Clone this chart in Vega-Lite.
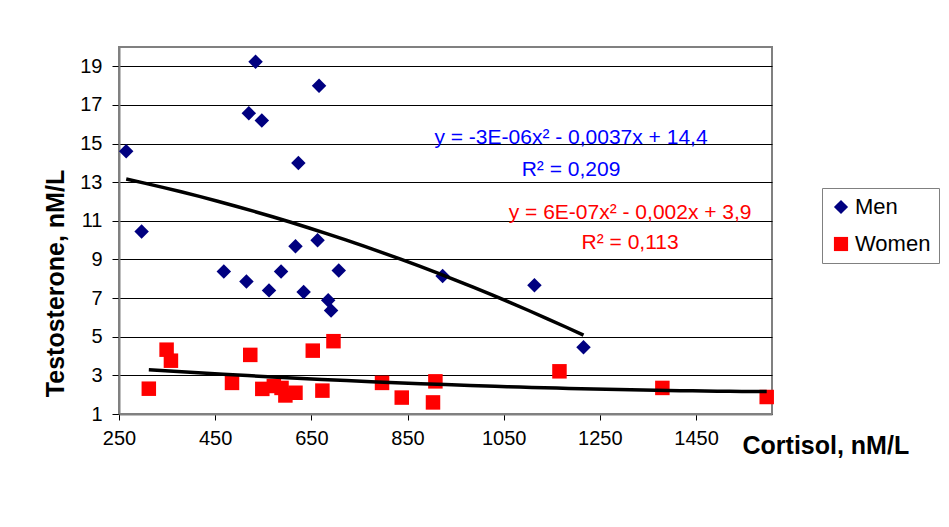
{
  "$schema": "https://vega.github.io/schema/vega-lite/v6.json",
  "autosize": {"type": "none"},
  "padding": {"left": 119, "top": 47, "right": 177, "bottom": 113},
  "width": 653,
  "height": 367,
  "background": "white",
  "config": {
    "font": "Liberation Sans",
    "view": {"stroke": "#808080", "strokeWidth": 2},
    "axis": {"labelFont": "Liberation Sans", "titleFont": "Liberation Sans"}
  },
  "data": {
    "values": [
      {"sex": "Men", "cortisol": 265, "testosterone": 14.6},
      {"sex": "Men", "cortisol": 297, "testosterone": 10.45},
      {"sex": "Men", "cortisol": 534, "testosterone": 19.24},
      {"sex": "Men", "cortisol": 520, "testosterone": 16.57},
      {"sex": "Men", "cortisol": 547, "testosterone": 16.2},
      {"sex": "Men", "cortisol": 666, "testosterone": 18.0},
      {"sex": "Men", "cortisol": 623, "testosterone": 14.0},
      {"sex": "Men", "cortisol": 468, "testosterone": 8.38},
      {"sex": "Men", "cortisol": 515, "testosterone": 7.86},
      {"sex": "Men", "cortisol": 562, "testosterone": 7.4},
      {"sex": "Men", "cortisol": 587, "testosterone": 8.38},
      {"sex": "Men", "cortisol": 617, "testosterone": 9.68},
      {"sex": "Men", "cortisol": 634, "testosterone": 7.31},
      {"sex": "Men", "cortisol": 663, "testosterone": 10.0},
      {"sex": "Men", "cortisol": 685, "testosterone": 6.89},
      {"sex": "Men", "cortisol": 691, "testosterone": 6.36},
      {"sex": "Men", "cortisol": 707, "testosterone": 8.43},
      {"sex": "Men", "cortisol": 923, "testosterone": 8.14},
      {"sex": "Men", "cortisol": 1114, "testosterone": 7.67},
      {"sex": "Men", "cortisol": 1216, "testosterone": 4.45},
      {"sex": "Women", "cortisol": 312, "testosterone": 2.31},
      {"sex": "Women", "cortisol": 349, "testosterone": 4.33},
      {"sex": "Women", "cortisol": 358, "testosterone": 3.76},
      {"sex": "Women", "cortisol": 485, "testosterone": 2.61},
      {"sex": "Women", "cortisol": 523, "testosterone": 4.06},
      {"sex": "Women", "cortisol": 548, "testosterone": 2.3},
      {"sex": "Women", "cortisol": 572, "testosterone": 2.45},
      {"sex": "Women", "cortisol": 588, "testosterone": 2.35},
      {"sex": "Women", "cortisol": 596, "testosterone": 1.96},
      {"sex": "Women", "cortisol": 617, "testosterone": 2.1},
      {"sex": "Women", "cortisol": 653, "testosterone": 4.28},
      {"sex": "Women", "cortisol": 673, "testosterone": 2.21},
      {"sex": "Women", "cortisol": 696, "testosterone": 4.77},
      {"sex": "Women", "cortisol": 797, "testosterone": 2.61},
      {"sex": "Women", "cortisol": 838, "testosterone": 1.85},
      {"sex": "Women", "cortisol": 908, "testosterone": 2.69},
      {"sex": "Women", "cortisol": 903, "testosterone": 1.6},
      {"sex": "Women", "cortisol": 1166, "testosterone": 3.21},
      {"sex": "Women", "cortisol": 1380, "testosterone": 2.35},
      {"sex": "Women", "cortisol": 1597, "testosterone": 1.88}
    ]
  },
  "layer": [
    {
      "mark": {"type": "point", "filled": true, "opacity": 1, "size": 210},
      "encoding": {
        "x": {
          "field": "cortisol", "type": "quantitative",
          "scale": {"domain": [250, 1608], "nice": false, "zero": false},
          "axis": {
            "values": [250, 450, 650, 850, 1050, 1250, 1450],
            "format": "d",
            "grid": false,
            "domainColor": "#808080", "domainWidth": 2,
            "tickColor": "black", "tickSize": 6, "tickWidth": 1,
            "labelFontSize": 20, "labelColor": "black", "labelPadding": 8,
            "labelFlush": false,
            "title": "Cortisol, nM/L",
            "titleFontSize": 25, "titleFontWeight": "bold", "titleColor": "black",
            "titleAlign": "left", "titleAnchor": "start", "titleBaseline": "alphabetic",
            "titleX": 623, "titleY": 39
          }
        },
        "y": {
          "field": "testosterone", "type": "quantitative",
          "scale": {"domain": [1, 20], "nice": false, "zero": false},
          "axis": {
            "values": [1, 3, 5, 7, 9, 11, 13, 15, 17, 19],
            "grid": true, "gridColor": "black", "gridWidth": 1, "gridOpacity": 1,
            "domainColor": "#808080", "domainWidth": 2,
            "tickColor": "black", "tickSize": 7, "tickWidth": 1,
            "labelFontSize": 20, "labelColor": "black", "labelPadding": 10,
            "labelFlush": false,
            "title": "Testosterone, nM/L",
            "titleFontSize": 25, "titleFontWeight": "bold", "titleColor": "black",
            "titleAngle": 270, "titleAlign": "center", "titleBaseline": "alphabetic",
            "titleX": -56, "titleY": 236
          }
        },
        "color": {
          "field": "sex", "type": "nominal",
          "scale": {"domain": ["Men", "Women"], "range": ["#000080", "#FF0000"]},
          "legend": {
            "title": null,
            "orient": "none", "legendX": 703, "legendY": 141,
            "strokeColor": "#808080",
            "padding": 8, "fillColor": "white",
            "labelFontSize": 22, "labelColor": "black", "labelOffset": 3,
            "symbolSize": 200, "symbolStrokeWidth": 0,
            "rowPadding": 15, "labelLimit": 300
          }
        },
        "shape": {
          "field": "sex", "type": "nominal",
          "scale": {"domain": ["Men", "Women"], "range": ["diamond", "square"]},
          "legend": null
        }
      }
    },
    {
      "transform": [
        {"regression": "testosterone", "on": "cortisol", "groupby": ["sex"], "method": "poly", "order": 2}
      ],
      "mark": {"type": "line", "color": "black", "strokeWidth": 3.5},
      "encoding": {
        "x": {"field": "cortisol", "type": "quantitative"},
        "y": {"field": "testosterone", "type": "quantitative"},
        "detail": {"field": "sex", "type": "nominal"}
      }
    },
    {
      "data": {"values": [{}]},
      "mark": {"type": "text", "text": ["y = -3E-06x² - 0,0037x + 14,4", "R² = 0,209"], "align": "center", "baseline": "alphabetic", "fontSize": 21, "lineHeight": 31.7, "fill": "#0000FF"},
      "encoding": {
        "x": {"datum": 1190, "type": "quantitative"},
        "y": {"datum": 14.97, "type": "quantitative"}
      }
    },
    {
      "data": {"values": [{}]},
      "mark": {"type": "text", "text": ["y = 6E-07x² - 0,002x + 3,9", "R² = 0,113"], "align": "center", "baseline": "alphabetic", "fontSize": 21, "lineHeight": 30.7, "fill": "#FF0000"},
      "encoding": {
        "x": {"datum": 1313, "type": "quantitative"},
        "y": {"datum": 11.11, "type": "quantitative"}
      }
    }
  ]
}
